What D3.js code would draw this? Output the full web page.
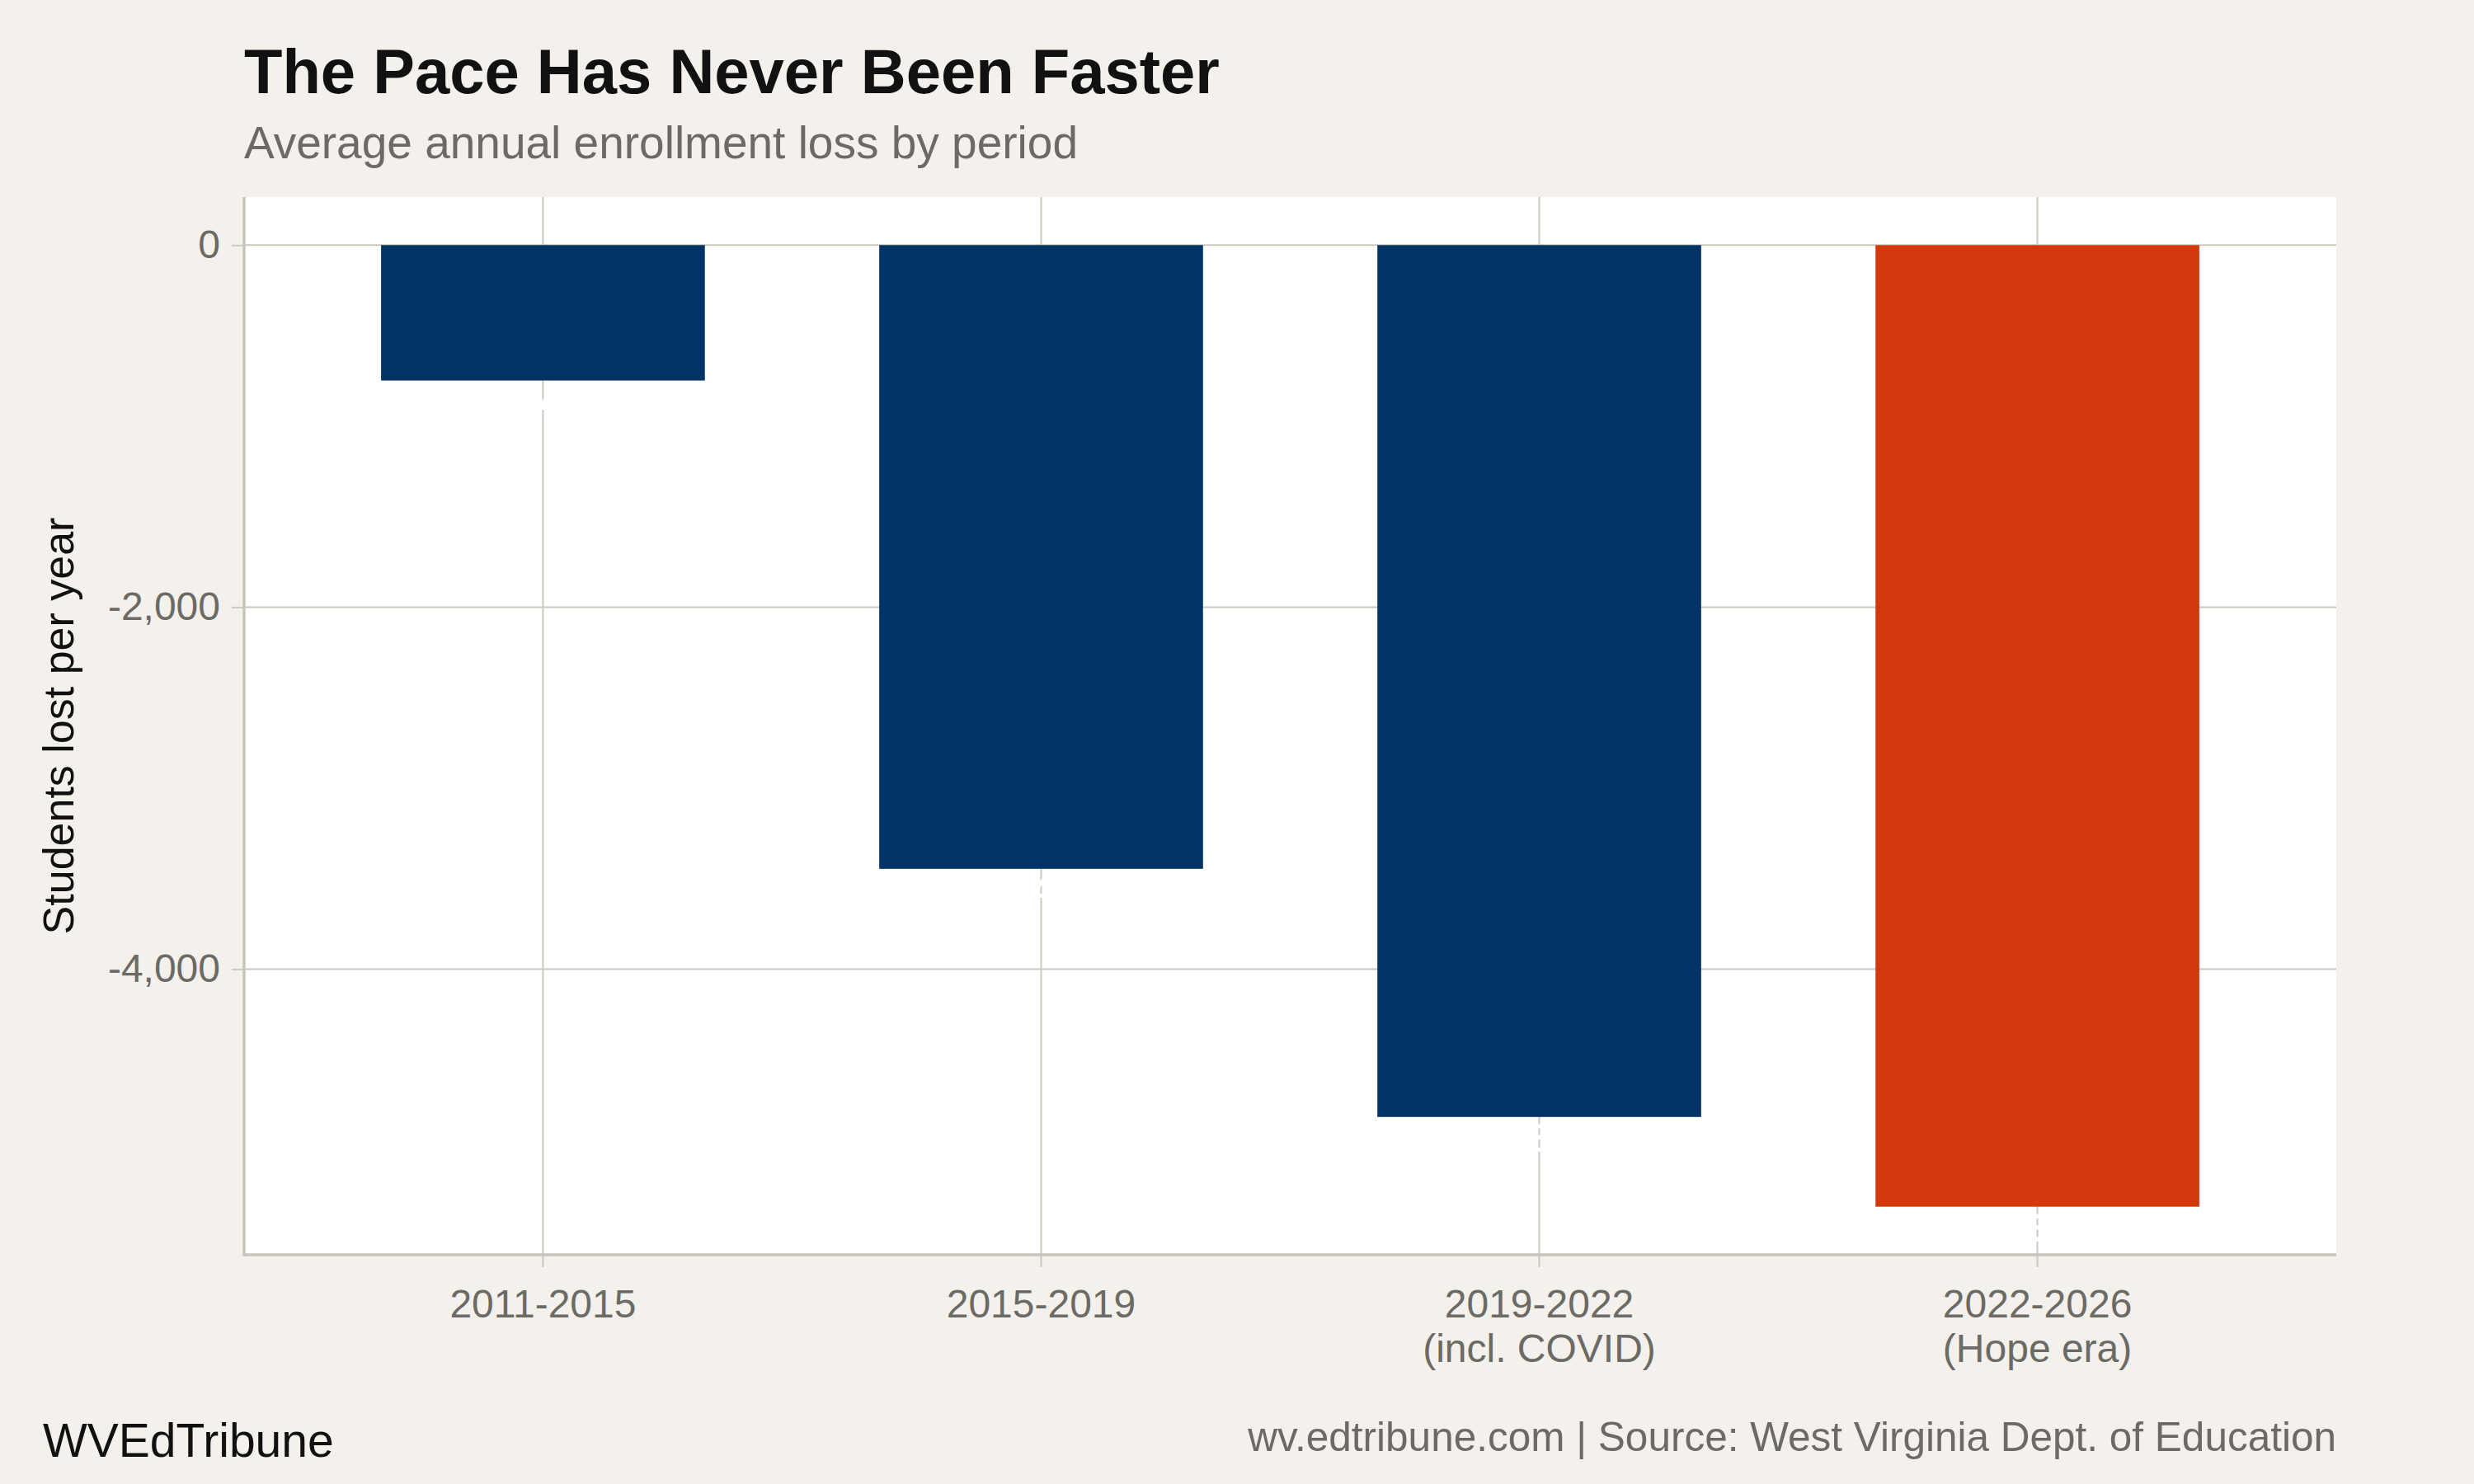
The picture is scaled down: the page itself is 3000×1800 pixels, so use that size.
<!DOCTYPE html>
<html>
<head>
<meta charset="utf-8">
<script src="https://cdn.jsdelivr.net/npm/d3@7"></script>
<style>
  html, body { margin: 0; padding: 0; background: #f4f1ec; }
  svg { display: block; font-family: "Liberation Sans", Arial, Helvetica, sans-serif; }
</style>
</head>
<body>
<svg id="chart" width="3000" height="1800"></svg>
<script>
// data
var periods = ["2011-2015", "2015-2019", "2019-2022", "2022-2026"]
var periodNotes = ["", "", "(incl. COVID)", "(Hope era)"]
var lossPerYear = [-748, -3446, -4817, -5313]
var highlightPeriod = "2022-2026"
var yTicks = [0, -2000, -4000]

var width = 3000, height = 1800
var panel = { left: 296, right: 2833, top: 239, bottom: 1522 }

var gridColor = "#cdc8bf"
var grayText = "#6b6a64"

// plain hyphen for negatives, like the original
var fmt = d => d3.format(",")(d).replace("\u2212", "-")

var svg = d3.select("#chart")

svg.append("rect")
    .attr("width", width)
    .attr("height", height)
    .attr("fill", "#f4f1ec")

// ggplot-ish: 5% expansion on the continuous axis
var yMin = d3.min(lossPerYear), yMax = 0
var span = yMax - yMin
var y = d3.scaleLinear()
    .domain([yMin - 0.05 * span, yMax + 0.05 * span])
    .range([panel.bottom, panel.top])

var x = d3.scaleBand()
    .domain(periods)
    .range([panel.left, panel.right])
    .paddingInner(0.35)
    .paddingOuter(0.275)

var color = d3.scaleOrdinal()
    .domain(["base", "highlight"])
    .range(["#003366", "#d4380d"])

// panel background
svg.append("rect")
    .attr("x", panel.left)
    .attr("y", panel.top)
    .attr("width", panel.right - panel.left)
    .attr("height", panel.bottom - panel.top)
    .attr("fill", "#ffffff")

// gridlines
svg.append("g")
    .selectAll("line")
    .data(yTicks)
    .join("line")
    .attr("x1", panel.left)
    .attr("x2", panel.right)
    .attr("y1", d => y(d))
    .attr("y2", d => y(d))
    .attr("stroke", gridColor)
    .attr("stroke-width", 2)

svg.append("g")
    .selectAll("line")
    .data(periods)
    .join("line")
    .attr("x1", d => x(d) + x.bandwidth() / 2)
    .attr("x2", d => x(d) + x.bandwidth() / 2)
    .attr("y1", panel.top)
    .attr("y2", panel.bottom)
    .attr("stroke", gridColor)
    .attr("stroke-width", 2)

// bars
var rows = periods.map((p, i) => ({ period: p, value: lossPerYear[i] }))

svg.append("g")
    .selectAll("rect")
    .data(rows)
    .join("rect")
    .attr("x", d => x(d.period))
    .attr("width", x.bandwidth())
    .attr("y", d => y(Math.max(0, d.value)))
    .attr("height", d => Math.abs(y(d.value) - y(0)))
    .attr("fill", d => color(d.period === highlightPeriod ? "highlight" : "base"))

// value labels (drawn in white, they vanish against the panel)
svg.append("g")
    .selectAll("text")
    .data(rows)
    .join("text")
    .attr("x", d => x(d.period) + x.bandwidth() / 2)
    .attr("y", d => y(d.value) + 42)
    .attr("text-anchor", "middle")
    .attr("font-size", 48)
    .attr("font-weight", "bold")
    .attr("fill", "#ffffff")
    .text(d => fmt(d.value))

// y axis
var yAxis = svg.append("g")
    .attr("transform", "translate(" + panel.left + ",0)")
    .call(d3.axisLeft(y).tickValues(yTicks).tickFormat(fmt).tickSize(15).tickPadding(14))
yAxis.select(".domain").remove()
yAxis.selectAll(".tick line").attr("stroke", gridColor).attr("stroke-width", 2)
yAxis.selectAll(".tick text")
    .attr("font-size", 48)
    .attr("fill", grayText)
    .attr("font-family", "Liberation Sans, Arial, sans-serif")

// x axis
var xAxis = svg.append("g")
    .attr("transform", "translate(0," + panel.bottom + ")")
    .call(d3.axisBottom(x).tickSize(15).tickFormat(""))
xAxis.select(".domain").remove()
xAxis.selectAll(".tick line").attr("stroke", gridColor).attr("stroke-width", 2)

var xLabels = svg.append("g")
    .selectAll("text")
    .data(periods)
    .join("text")
    .attr("x", d => x(d) + x.bandwidth() / 2)
    .attr("y", 1598)
    .attr("text-anchor", "middle")
    .attr("font-size", 48)
    .attr("fill", grayText)
xLabels.append("tspan").text(d => d)
xLabels.append("tspan")
    .attr("x", d => x(d) + x.bandwidth() / 2)
    .attr("dy", 54)
    .text((d, i) => periodNotes[i])

// axis lines (left + bottom)
svg.append("line")
    .attr("x1", panel.left).attr("x2", panel.left)
    .attr("y1", panel.top).attr("y2", panel.bottom + 1.5)
    .attr("stroke", "#c9c4bb").attr("stroke-width", 3.5)
svg.append("line")
    .attr("x1", panel.left).attr("x2", panel.right)
    .attr("y1", panel.bottom).attr("y2", panel.bottom)
    .attr("stroke", "#c9c4bb").attr("stroke-width", 3.5)

// y title
svg.append("text")
    .attr("transform", "translate(89," + ((panel.top + panel.bottom) / 2) + ") rotate(-90)")
    .attr("text-anchor", "middle")
    .attr("font-size", 52)
    .attr("fill", "#111111")
    .text("Students lost per year")

// titles
svg.append("text")
    .attr("x", panel.left)
    .attr("y", 113)
    .attr("font-size", 76)
    .attr("font-weight", "bold")
    .attr("fill", "#111111")
    .text("The Pace Has Never Been Faster")

svg.append("text")
    .attr("x", panel.left)
    .attr("y", 192)
    .attr("font-size", 55)
    .attr("fill", grayText)
    .text("Average annual enrollment loss by period")

// footer
svg.append("text")
    .attr("x", 52)
    .attr("y", 1767)
    .attr("font-size", 57)
    .attr("fill", "#111111")
    .text("WVEdTribune")

svg.append("text")
    .attr("x", panel.right)
    .attr("y", 1760)
    .attr("text-anchor", "end")
    .attr("font-size", 49.5)
    .attr("fill", grayText)
    .text("wv.edtribune.com | Source: West Virginia Dept. of Education")
</script>
</body>
</html>
